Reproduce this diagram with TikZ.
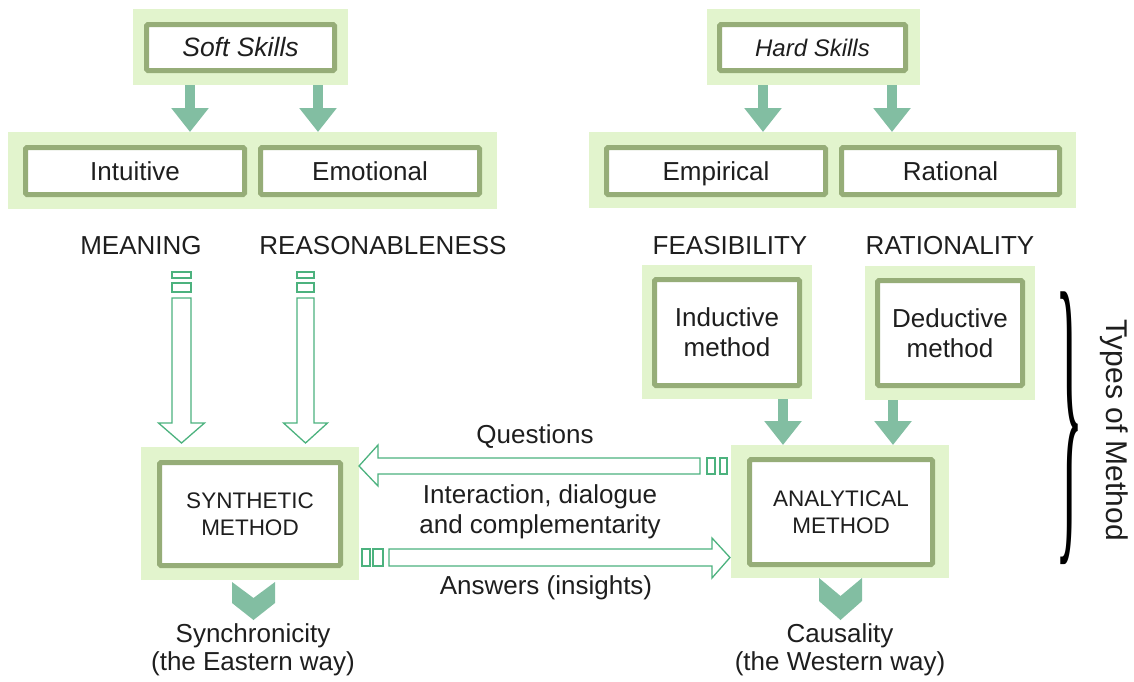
\documentclass[tikz,border=0pt]{standalone}
\usepackage{fontspec}
\usepackage{graphicx}
\setmainfont{Liberation Sans}
\newfontfamily\bracefont{Liberation Serif}
\usetikzlibrary{arrows.meta,calc}
\definecolor{lightg}{HTML}{E2F4CD}
\definecolor{borderg}{HTML}{96AD78}
\definecolor{fillg}{HTML}{82BEA2}
\definecolor{hollowg}{HTML}{4CB27E}
\definecolor{txt}{HTML}{1E1E1E}
\begin{document}
\begin{tikzpicture}[x=1pt,y=-1pt,
  bgbox/.style={fill=lightg, draw=none, inner sep=0pt, outer sep=0pt},
  box/.style={draw=borderg, line width=5pt, fill=white, rounded corners=1.5pt, inner sep=0pt, outer sep=0pt, align=center, text=txt},
  single/.style={text height=20pt, text depth=2pt},
  lab/.style={text=txt, inner sep=0pt, align=center},
  farrow/.style={draw=fillg, line width=10pt, -{Triangle[width=36pt,length=24pt]}},
  hollow/.style={draw=hollowg, line width=1.3pt, fill=white, line join=miter},
  chev/.style={fill=fillg, draw=none},
  f24/.style={font=\fontsize{26}{30}\selectfont},
  f21/.style={font=\fontsize{22.5}{27}\selectfont}
]
\useasboundingbox (0,0) rectangle (1134,681);

% ---------- top boxes ----------
\node[bgbox, minimum width=215pt, minimum height=76pt] (ssbg) at (240.5,47) {};
\node[box, single, minimum width=188pt, minimum height=46pt, font=\fontsize{26.5}{30}\selectfont\itshape] (ss) at (240.5,47.5) {Soft Skills};
\node[bgbox, minimum width=213pt, minimum height=76pt] (hsbg) at (813.5,47) {};
\node[box, single, minimum width=186pt, minimum height=46pt, font=\fontsize{24}{28}\selectfont\itshape] (hs) at (812.5,47.5) {Hard Skills};

% ---------- second row ----------
\node[bgbox, minimum width=489pt, minimum height=77pt] (rowL) at (252.5,170.5) {};
\node[box, single, f24, minimum width=219pt, minimum height=47pt] (intu) at (135,171) {Intuitive};
\node[box, single, f24, minimum width=219pt, minimum height=47pt] (emo) at (370,171) {Emotional};
\node[bgbox, minimum width=487pt, minimum height=76pt] (rowR) at (832.5,170) {};
\node[box, single, f24, minimum width=219pt, minimum height=47pt] (emp) at (716,171) {Empirical};
\node[box, single, f24, minimum width=218pt, minimum height=47pt] (rat) at (950.5,171) {Rational};

% ---------- filled arrows top ----------
\draw[farrow] ($(ssbg.south)+(-50.5,0)$) -- ($(rowL.north -| ssbg.south)+(-50.5,0)$);
\draw[farrow] ($(ssbg.south)+(77.5,0)$) -- ($(rowL.north -| ssbg.south)+(77.5,0)$);
\draw[farrow] ($(hsbg.south)+(-50.5,0)$) -- ($(rowR.north -| hsbg.south)+(-50.5,0)$);
\draw[farrow] ($(hsbg.south)+(78.5,0)$) -- ($(rowR.north -| hsbg.south)+(78.5,0)$);

% ---------- labels ----------
\node[lab, f24] (meaning) at (141,246) {MEANING};
\node[lab, f24] (reason) at (383,246) {REASONABLENESS};
\node[lab, f24] (feas) at (730,246) {FEASIBILITY};
\node[lab, f24] (ratio) at (950,246) {RATIONALITY};

% ---------- method boxes ----------
\node[bgbox, minimum width=170pt, minimum height=134pt] (indbg) at (727,332) {};
\node[box, f24, minimum width=145pt, minimum height=106pt] (ind) at (727,332.5) {Inductive\\method};
\node[bgbox, minimum width=170pt, minimum height=134pt] (dedbg) at (950,333) {};
\node[box, f24, minimum width=145pt, minimum height=105pt] (ded) at (950,333) {Deductive\\method};

\node[bgbox, minimum width=218pt, minimum height=133pt] (synbg) at (250,513.5) {};
\node[box, f21, minimum width=181pt, minimum height=103pt] (syn) at (250,514) {SYNTHETIC\\METHOD};
\node[bgbox, minimum width=218pt, minimum height=133pt] (anabg) at (840,511.5) {};
\node[box, f21, minimum width=183pt, minimum height=105pt] (ana) at (841,512) {ANALYTICAL\\METHOD};

% ---------- filled arrows to analytical ----------
\draw[farrow] ($(indbg.south)+(56,0)$) -- ($(anabg.north -| indbg.south)+(56,0)$);
\draw[farrow] ($(dedbg.south)+(-57,0)$) -- ($(anabg.north -| dedbg.south)+(-57,0)$);

% ---------- hollow arrows down ----------
\foreach \cx/\sw/\hw in {181.5/9.5/23, 305.5/8.5/22}{
  \draw[hollow] (\cx-\sw,272) rectangle (\cx+\sw,278);
  \draw[hollow] (\cx-\sw,283) rectangle (\cx+\sw,292);
  \draw[hollow] (\cx-\sw,298) -- (\cx-\sw,423) -- (\cx-\hw,423) -- (\cx,443) -- (\cx+\hw,423) -- (\cx+\sw,423) -- (\cx+\sw,298) -- cycle;
}

% ---------- Questions arrow (to the left) ----------
\draw[hollow] (700,458) -- (378,458) -- (378,445) -- (359,466) -- (378,486) -- (378,474) -- (700,474) -- cycle;
\draw[hollow] (707,458) rectangle (715,474);
\draw[hollow] (720,458) rectangle (727,474);

% ---------- Answers arrow (to the right) ----------
\draw[hollow] (389,549) -- (712,549) -- (712,538) -- (730,557.5) -- (712,578) -- (712,566) -- (389,566) -- cycle;
\draw[hollow] (362,549) rectangle (370,566);
\draw[hollow] (373,549) rectangle (383,566);

\node[lab, f24] (quest) at (535,437) {Questions};
\node[lab, f24] (inter) at (540,512) {Interaction, dialogue\\and complementarity};
\node[lab, f24] (answ) at (546,588) {Answers (insights)};

% ---------- chevrons ----------
\fill[chev] ($(synbg.south)+(-18,2)$) -- ($(synbg.south)+(3.5,18)$) -- ($(synbg.south)+(25,2)$) -- ($(synbg.south)+(25,23)$) -- ($(synbg.south)+(3.5,40)$) -- ($(synbg.south)+(-18,23)$) -- cycle;
\fill[chev] ($(anabg.south)+(-21,0)$) -- ($(anabg.south)+(0.5,18)$) -- ($(anabg.south)+(22,0)$) -- ($(anabg.south)+(22,23)$) -- ($(anabg.south)+(0.5,42)$) -- ($(anabg.south)+(-21,23)$) -- cycle;

\node[lab, font=\fontsize{26}{27.5}\selectfont] (sync) at (253,650) {Synchronicity\\(the Eastern way)};
\node[lab, font=\fontsize{26}{27.5}\selectfont] (caus) at (840,650) {Causality\\(the Western way)};

% ---------- brace ----------
\node[inner sep=0pt, text=black] (brace) at (1069,428) {\resizebox*{28pt}{272pt}{\bracefont\}}};
\node[lab, font=\fontsize{30}{32}\selectfont, rotate=-90] (types) at (1114,430) {Types of Method};
\end{tikzpicture}
\end{document}
